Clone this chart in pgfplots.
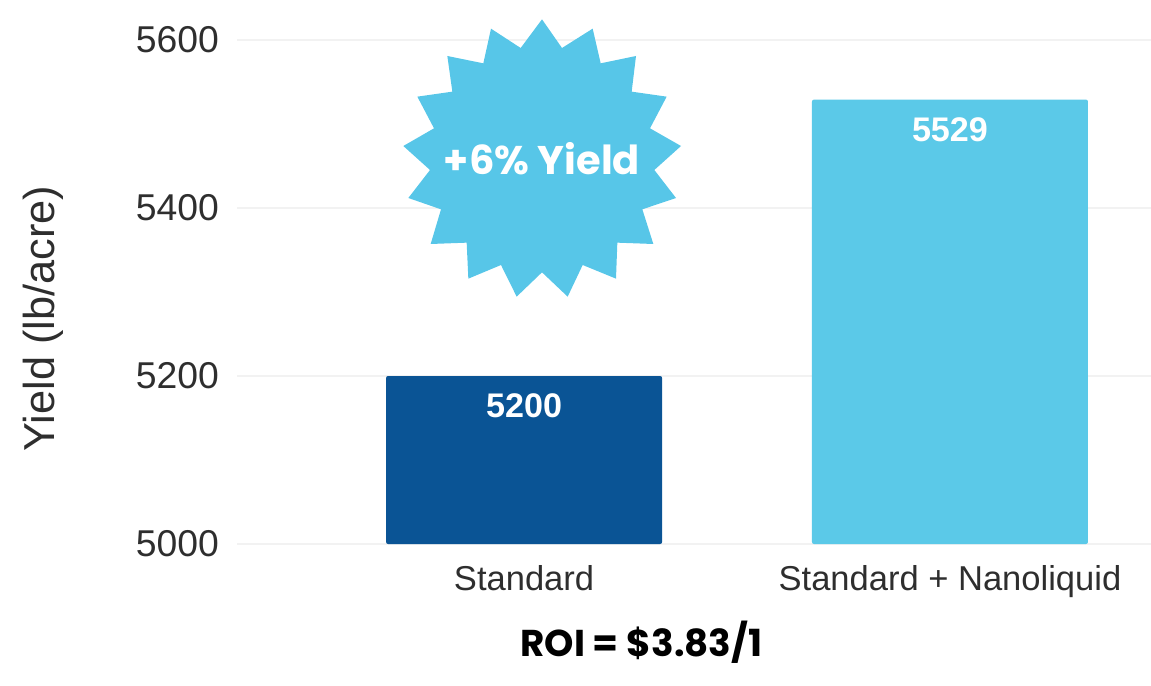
\documentclass[border=0pt]{standalone}
\usepackage{pgfplots}
\usepackage{fontspec}
\setmainfont{Liberation Sans}
\newfontfamily\pop{Poppins}[BoldFont={Poppins Bold}]
\pgfplotsset{compat=1.18}
\definecolor{darkbar}{HTML}{0A5495}
\definecolor{lightbar}{HTML}{5BC9E8}
\definecolor{starc}{HTML}{57C6E8}
\definecolor{gridc}{HTML}{F2F2F2}
\definecolor{txt}{HTML}{2E2E2E}
\begin{document}
\begin{tikzpicture}[x=1pt,y=1pt]
\useasboundingbox (0,0) rectangle (863.25,513.75);
\begin{axis}[
  at={(177.75pt,105.75pt)}, anchor=south west,
  scale only axis, width=685.5pt, height=378pt,
  xmin=-0.674, xmax=1.472, ymin=5000, ymax=5600,
  ybar, bar width=207pt, bar shift=0pt,
  axis line style={draw=none},
  major tick length=0pt,
  ytick={5000,5200,5400,5600},
  xtick={0,1}, xticklabels={Standard,Standard + Nanoliquid},
  ymajorgrids, grid style={gridc,line width=0.8pt},
  /pgf/number format/assume math mode=true,
  /pgf/number format/1000 sep={},
  yticklabel style={font=\fontsize{28}{30}\selectfont,text=txt,xshift=-10pt},
  xticklabel style={font=\fontsize{25.9}{28}\selectfont,text=txt,yshift=-12.75pt},
  ylabel={Yield (lb/acre)},
  ylabel style={font=\fontsize{32.5}{35}\selectfont,text=txt,at={(axis description cs:-0.2115,0.447)},anchor=center},
  nodes near coords,
  nodes near coords style={anchor=north,yshift=-9.75pt,text=white,font=\fontsize{25.6}{28}\selectfont\bfseries,/pgf/number format/1000 sep={}},
]
\addplot[fill=darkbar,draw=none,rounded corners=1.5pt] coordinates {(0,5200)};
\addplot[fill=lightbar,draw=none,rounded corners=1.5pt] coordinates {(1,5529)};
\end{axis}
\begin{scope}[shift={(292.5,513.75)},x=0.25pt,y=-0.25pt,sharp corners]
\fill[starc,sharp corners] (456,58)--(516,144)--(608,86)--(632,190)--(738,168)--(725,275)--(830,290)--(780,385)--(873,438)--(793,510)--(858,594)--(757,628)--(790,732)--(682,728)--(678,836)--(578,795)--(533,890)--(456,817)--(380,890)--(333,795)--(235,836)--(230,728)--(122,732)--(153,628)--(55,594)--(120,510)--(40,438)--(132,385)--(82,290)--(187,275)--(172,168)--(280,190)--(303,86)--(392,144)--cycle;
\end{scope}
\node[text=white,font=\pop\fontsize{30}{34}\selectfont\bfseries,anchor=center] at (406.5,395) {+6\% Yield};
\node[text=black,font=\pop\fontsize{28}{32}\selectfont\bfseries,anchor=center] at (481,32) {ROI = \$3.83/1};
\end{tikzpicture}
\end{document}
